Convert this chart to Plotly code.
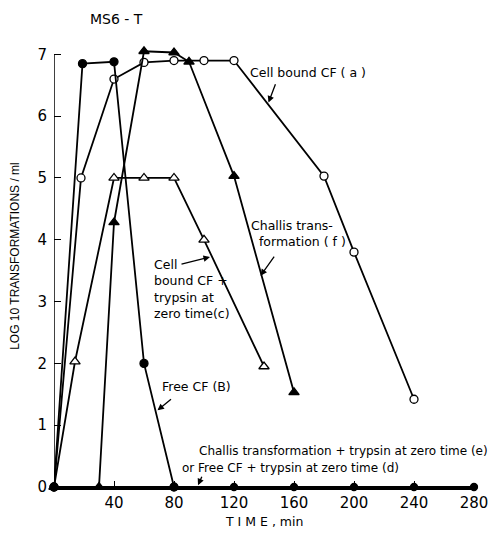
import plotly.graph_objects as go

# Data (time in min, log10 transformations/ml)
free_cf_t = [0, 19, 40, 60, 80]
free_cf_v = [0, 6.85, 6.88, 2.0, 0]

cell_cf_t = [0, 18, 40, 60, 80, 100, 120, 180, 200, 240]
cell_cf_v = [0, 5.0, 6.6, 6.87, 6.9, 6.9, 6.9, 5.03, 3.8, 1.42]

challis_t = [30, 40, 60, 80, 90, 120, 160]
challis_v = [0, 4.28, 7.05, 7.03, 6.88, 5.03, 1.53]

cell_tryp_t = [0, 14, 40, 60, 80, 100, 140]
cell_tryp_v = [0, 2.03, 5.0, 5.0, 5.0, 4.0, 1.95]

zero_t = [0, 80, 120, 160, 200, 240, 280]
zero_v = [0, 0, 0, 0, 0, 0, 0]

x_ticks = [40, 80, 120, 160, 200, 240, 280]
y_ticks = [0, 1, 2, 3, 4, 5, 6, 7]

FONT = "DejaVu Sans"
FONT2 = "Liberation Sans"
fig = go.Figure()


def add(t, v, symbol, filled, ms=8):
    fig.add_trace(go.Scatter(
        x=t, y=v, mode="lines+markers",
        line=dict(color="black", width=1.8),
        marker=dict(symbol=symbol, size=ms, color="black" if filled else "white",
                    line=dict(color="black", width=1.3)),
        cliponaxis=False, showlegend=False))


add(zero_t, zero_v, "circle", True, 7)
add(cell_tryp_t, cell_tryp_v, "triangle-up", False, 9)
add(cell_cf_t, cell_cf_v, "circle", False, 8)
add(challis_t, challis_v, "triangle-up", True, 9)
add(free_cf_t, free_cf_v, "circle", True, 8)


def text(x, y, s, size=12.5):
    fig.add_annotation(x=x, y=y, xref="x", yref="y", text=s, showarrow=False,
                       xanchor="left", yanchor="middle", align="left",
                       font=dict(family=FONT, size=size, color="black"))


def arrow(x0, y0, x1, y1):
    fig.add_annotation(x=x1, y=y1, ax=x0, ay=y0, xref="x", yref="y", axref="x", ayref="y",
                       text="", showarrow=True, arrowhead=2, arrowsize=1, arrowwidth=1.3,
                       arrowcolor="black")


text(129, 6.70, "Cell bound CF ( a )")
arrow(148, 6.54, 143, 6.22)
text(130, 4.10, "Challis trans-<br>  formation ( f )")
arrow(147.5, 3.75, 137.7, 3.42)
text(65, 3.20, "Cell<br>bound CF +<br>trypsin at<br>zero time(c)")
arrow(84, 3.60, 104, 3.72)
text(70.5, 1.62, "Free CF (B)")
arrow(79, 1.44, 69, 1.24)
text(95, 0.58, "Challis transformation + trypsin at zero time (e)", 12)
text(84, 0.31, "or Free CF + trypsin at zero time (d)", 12)
arrow(99, 0.19, 96, 0.03)

# y axis line only up to 7 (the top markers sit slightly above it)
fig.add_shape(type="line", xref="x", yref="y", x0=0, x1=0, y0=0, y1=7,
              line=dict(color="black", width=1.5))

# the page body adds an 8px offset; compensate so the paper spans the window
YMAX = 7.2
W, H = 492, 527
ML, MR, MB = 46, 17, 48
MT = round(487 - YMAX * (433 / 7)) - 8
PW, PH = W - ML - MR, H - MT - MB

fig.update_layout(
    width=W, height=H,
    margin=dict(l=ML, r=MR, t=MT, b=MB),
    plot_bgcolor="white", paper_bgcolor="white",
    font=dict(family=FONT, size=13, color="black"),
    xaxis=dict(range=[0, 280], tickvals=x_ticks, ticks="inside", ticklen=6, tickwidth=1.3,
               tickcolor="black", showline=True, linecolor="black", linewidth=3,
               showgrid=False, zeroline=False, tickfont=dict(size=15, family=FONT)),
    yaxis=dict(range=[0, YMAX], tickvals=y_ticks, ticks="inside", ticklen=7, tickwidth=1.3,
               tickcolor="black", showline=False, ticklabelstandoff=6,
               showgrid=False, zeroline=False, tickfont=dict(size=15, family=FONT)),
)


def paper_x(px):
    return (px - 8 - ML) / PW


def paper_y(py):
    return 1 - (py - 8 - MT) / PH


fig.add_annotation(text="MS6 - T", xref="paper", yref="paper", x=paper_x(118), y=paper_y(19),
                   showarrow=False, xanchor="center", yanchor="middle",
                   font=dict(family=FONT, size=14, color="black"))
fig.add_annotation(text="T I M E , min", xref="paper", yref="paper", x=paper_x(269), y=paper_y(521),
                   showarrow=False, xanchor="center", yanchor="middle",
                   font=dict(family=FONT, size=12.5, color="black"))
fig.add_annotation(text="LOG 10 TRANSFORMATIONS / ml", xref="paper", yref="paper",
                   x=paper_x(14), y=paper_y(256), textangle=-90,
                   showarrow=False, xanchor="center", yanchor="middle",
                   font=dict(family=FONT2, size=12, color="black"))

fig.write_html("out.html")
